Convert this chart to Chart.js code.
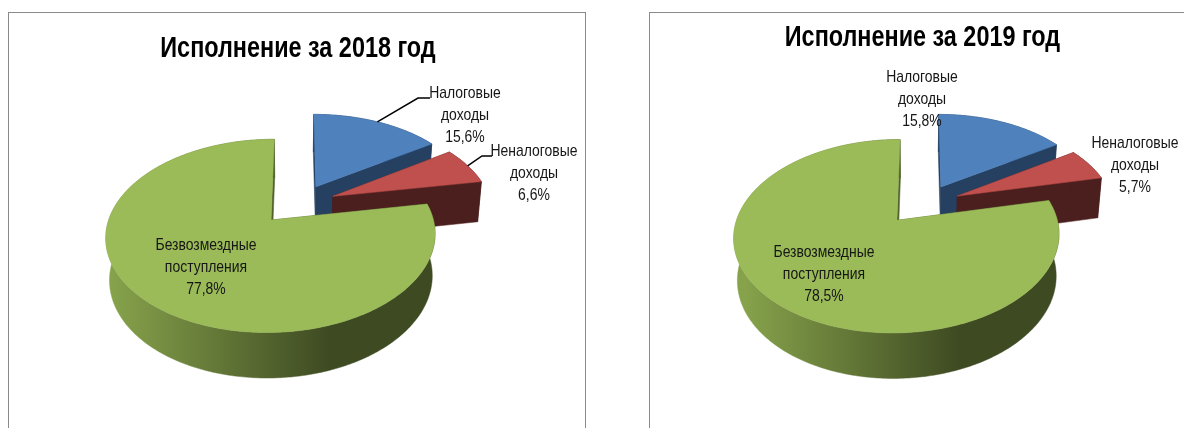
<!DOCTYPE html>
<html>
<head>
<meta charset="utf-8">
<script src="https://cdn.jsdelivr.net/npm/chart.js@4"></script>
<style>
  html, body { margin: 0; background: #fff; }
  body { position: relative; width: 1184px; height: 428px; overflow: hidden; }
  .frame { position: absolute; top: 12px; height: 440px; border: 1px solid #8a8a8a; box-sizing: border-box; }
  canvas { position: absolute; top: 0; filter: blur(0.4px); }
</style>
</head>
<body>
<div class="frame" style="left:8px;width:578px"></div>
<div class="frame" style="left:649px;width:600px"></div>
<canvas id="c2018" width="596" height="428" style="left:0"></canvas>
<canvas id="c2019" width="584" height="428" style="left:630px"></canvas>
<script>
const categories = ['Налоговые доходы', 'Неналоговые доходы', 'Безвозмездные поступления'];
const values2018 = [15.6, 6.6, 77.8];
const values2019 = [15.8, 5.7, 78.5];
const topColors = ['#4F81BD', '#C0504D', '#9BBB59'];
const sideColors = ['#254061', '#4B1F1E', null];

const FONT = '"Liberation Sans", sans-serif';

// no narrow font here, so the text gets squeezed sideways
function squeezedText(ctx, text, x, y, squeeze) {
  ctx.save();
  ctx.translate(x, y);
  ctx.scale(squeeze, 1);
  ctx.fillText(text, 0, 0);
  ctx.restore();
}

// 3d look: the pie's own arc angles are projected with a bit of perspective
const pie3d = {
  id: 'pie3d',
  beforeDatasetsDraw(chart, args, opts) {
    const ctx = chart.ctx;
    const els = chart.getDatasetMeta(0).data;
    const low = p => [opts.cx + (p[0] - opts.cx) * opts.shrink, p[1] + opts.depth / Math.sqrt(p[2])];
    const poly = (pts, fill) => {
      ctx.beginPath();
      pts.forEach((p, i) => i ? ctx.lineTo(p[0], p[1]) : ctx.moveTo(p[0], p[1]));
      ctx.closePath();
      ctx.fillStyle = fill;
      ctx.fill();
      ctx.strokeStyle = fill;
      ctx.lineWidth = 0.5;
      ctx.stroke();
    };

    els.forEach((el, i) => {
      const shift = opts.sliceShift[i];
      const project = (X, Y) => {
        const w = 1 + opts.k * Y;
        return [opts.cx + shift[0] + opts.R * X / w, opts.cy + shift[1] - opts.Rq * Y / w, w];
      };
      const a0 = el.startAngle + Math.PI / 2;
      const a1 = el.endAngle + Math.PI / 2;
      const mid = (a0 + a1) / 2;
      const ox = opts.explode * Math.sin(mid);
      const oy = opts.explode * Math.cos(mid);
      const apex = project(ox, oy);
      const rim = [];
      const n = Math.ceil((a1 - a0) / 0.015);
      for (let s = 0; s <= n; s++) {
        const t = a0 + (a1 - a0) * s / n;
        rim.push(project(ox + Math.sin(t), oy + Math.cos(t)));
      }
      let side = sideColors[i];
      if (!side) {
        side = ctx.createLinearGradient(opts.gradFrom, 0, opts.gradTo, 0);
        side.addColorStop(0, '#86A24B');
        side.addColorStop(1, '#3E4A22');
      }
      poly([apex, rim[0], low(rim[0]), low(apex)], side);
      poly([apex, rim[n], low(rim[n]), low(apex)], side);
      poly(rim.concat(rim.map(low).reverse()), side);
      poly([apex].concat(rim), el.options.backgroundColor);
    });
    // keep the flat arcs from being painted
    return false;
  },
  afterDraw(chart, args, opts) {
    const ctx = chart.ctx;
    const els = chart.getDatasetMeta(0).data;
    const values = chart.data.datasets[0].data;
    const titleOpts = chart.options.plugins.title;
    ctx.save();
    ctx.textAlign = 'center';
    ctx.textBaseline = 'alphabetic';
    ctx.fillStyle = '#000';
    ctx.font = 'bold 30px ' + FONT;
    squeezedText(ctx, titleOpts.text, opts.titleX, opts.titleY, 0.78);

    ctx.font = opts.labelFont;
    ctx.textBaseline = 'middle';
    chart.data.labels.forEach((label, i) => {
      const pos = opts.labelPos[i];
      const lines = label.split(' ').concat(values[i].toFixed(1).replace('.', ',') + '%');
      ctx.fillStyle = '#161616';
      lines.forEach((line, j) => squeezedText(ctx, line, pos.x, pos.y + j * opts.lineGap, 0.82));
      if (pos.leader) {
        const el = els[i];
        const mid = (el.startAngle + el.endAngle) / 2 + Math.PI / 2;
        const X = (opts.explode + 1) * Math.sin(mid);
        const Y = (opts.explode + 1) * Math.cos(mid);
        const w = 1 + opts.k * Y;
        const shift = opts.sliceShift[i];
        ctx.beginPath();
        ctx.moveTo(opts.cx + shift[0] + opts.R * X / w, opts.cy + shift[1] - opts.Rq * Y / w);
        pos.leader.forEach(p => ctx.lineTo(p[0], p[1]));
        ctx.strokeStyle = '#000';
        ctx.lineWidth = 1.5;
        ctx.stroke();
      }
    });
    ctx.restore();
  }
};

function makeChart(id, title, values, shape, labelPos) {
  return new Chart(document.getElementById(id), {
    type: 'pie',
    plugins: [pie3d],
    data: {
      labels: categories,
      datasets: [{ data: values, backgroundColor: topColors, borderWidth: 0 }]
    },
    options: {
      responsive: false,
      animation: false,
      plugins: {
        legend: { display: false },
        tooltip: { enabled: false },
        title: { display: false, text: title },
        pie3d: Object.assign({
          k: 0.16,
          explode: 0.22,
          shrink: 0.98,
          depth: 41,
          sliceShift: [[6, -1], [7, -1], [0, 0]],
          labelFont: '17px ' + FONT,
          lineGap: 22,
          labelPos: labelPos
        }, shape)
      }
    }
  });
}

makeChart('c2018', 'Исполнение за 2018 год',  values2018,
  { cx: 294, cy: 204.6, R: 158, Rq: 89, gradFrom: 112, gradTo: 330, titleX: 298, titleY: 57 },
  [
    { x: 465, y: 93, leader: [[418, 98], [430, 98]] },
    { x: 534, y: 151, leader: [[482, 156], [492, 156]] },
    { x: 206, y: 245 }
  ]);

makeChart('c2019', 'Исполнение за 2019 год', values2019,
  { cx: 289, cy: 204.6, R: 156, Rq: 89, gradFrom: 115, gradTo: 330, titleX: 292.5, titleY: 46 },
  [
    { x: 292, y: 77 },
    { x: 505, y: 143 },
    { x: 194, y: 252 }
  ]);
</script>
</body>
</html>
